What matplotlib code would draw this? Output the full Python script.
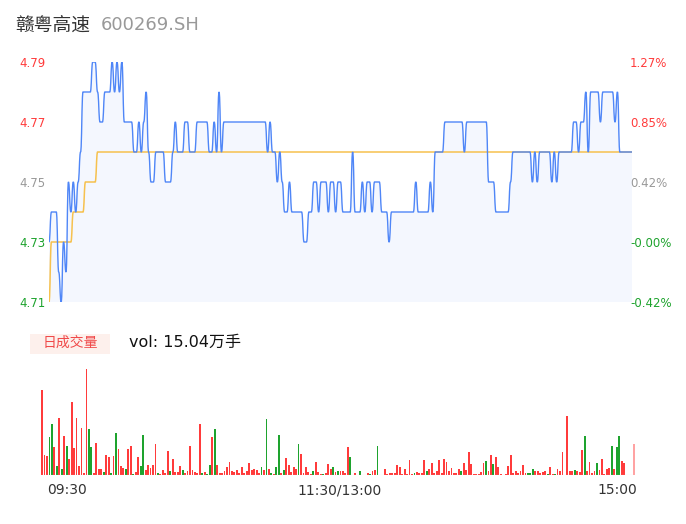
"""Intraday minute chart for 赣粤高速 (600269.SH): price, average price and volume."""

import numpy as np
import matplotlib
matplotlib.use('Agg')
import matplotlib.pyplot as plt
from matplotlib.patches import Rectangle, PathPatch
from matplotlib.path import Path

W, H = 686, 524

# Minute prices, stored as runs of (price level, number of minutes)
price_levels = [
    4.73, 4.74, 4.72, 4.71, 4.73, 4.72, 4.75, 4.74, 4.75, 4.74, 4.75, 4.76,
    4.78, 4.79, 4.78, 4.77, 4.78, 4.79, 4.78, 4.79, 4.78, 4.79,
    4.77, 4.76, 4.77, 4.76, 4.77, 4.78, 4.76,
    4.75, 4.76, 4.75, 4.76, 4.77, 4.76, 4.77, 4.76, 4.77, 4.76, 4.77, 4.76, 4.78, 4.76,
    4.77,
    4.76, 4.77, 4.76, 4.75, 4.76, 4.75, 4.74, 4.75, 4.74,
    4.73, 4.74, 4.75, 4.74, 4.75, 4.74, 4.75, 4.74, 4.75,
    4.74, 4.76, 4.74, 4.75, 4.74, 4.75, 4.74, 4.75, 4.74, 4.73,
    4.74, 4.75, 4.74, 4.75, 4.74,
    4.76, 4.77, 4.76, 4.77, 4.75, 4.74, 4.75,
    4.76, 4.75, 4.76, 4.75, 4.76, 4.75, 4.76, 4.75,
    4.76, 4.77, 4.76, 4.77, 4.78, 4.76, 4.78, 4.77, 4.78, 4.77, 4.78, 4.76,
]
price_runs = [
    1, 3, 1, 1, 1, 1, 1, 1, 1, 1, 1, 1,
    4, 2, 1, 2, 3, 1, 1, 1, 1, 1,
    4, 2, 1, 1, 1, 1, 1,
    2, 4, 3, 1, 1, 3, 2, 3, 5, 2, 1, 1, 1, 1,
    18,
    1, 1, 2, 1, 1, 1, 2, 1, 5,
    2, 2, 2, 1, 3, 1, 2, 1, 2,
    4, 1, 3, 1, 1, 2, 1, 3, 3, 1,
    10, 1, 5, 1, 1,
    4, 8, 1, 9, 3, 6, 1,
    8, 1, 1, 1, 5, 1, 1, 1,
    6, 2, 1, 2, 1, 1, 4, 1, 5, 1, 1, 6,
]

avg_levels = [4.71, 4.73, 4.74, 4.75, 4.76]
avg_runs = [1, 9, 5, 5, 221]

prev_close = 4.7302
left_ticks = [4.71, 4.73, 4.75, 4.77, 4.79]
left_labels = ['4.71', '4.73', '4.75', '4.77', '4.79']
right_labels = ['-0.42%', '-0.00%', '0.42%', '0.85%', '1.27%']

# Volume per minute (relative units) and direction: r = up, g = down, p = last
volumes = [
    85, 20, 19, 38, 51, 28, 9, 57, 6, 39,
    29, 16, 73, 27, 57, 9, 47, 2, 106, 46,
    28, 2, 32, 6, 6, 3, 20, 18, 2, 19,
    42, 26, 9, 7, 6, 26, 29, 1, 3, 18,
    9, 40, 5, 10, 7, 10, 31, 2, 1, 5,
    2, 24, 4, 16, 3, 3, 9, 5, 2, 4,
    29, 5, 3, 2, 51, 2, 3, 1, 10, 38,
    46, 10, 2, 2, 4, 8, 13, 4, 3, 5,
    2, 8, 2, 4, 12, 5, 6, 5, 2, 8,
    5, 56, 6, 2, 1, 8, 40, 2, 5, 17,
    10, 3, 8, 6, 31, 21, 2, 8, 3, 1,
    4, 13, 3, 1, 1, 2, 11, 6, 8, 3,
    4, 4, 4, 2, 28, 18, 0, 2, 0, 4,
    0, 0, 2, 1, 4, 5, 29, 0, 0, 6,
    1, 2, 2, 2, 10, 8, 1, 6, 1, 15,
    1, 2, 3, 2, 2, 15, 4, 6, 12, 2,
    4, 15, 2, 16, 13, 4, 7, 2, 2, 6,
    4, 12, 5, 23, 11, 1, 1, 1, 3, 12,
    14, 4, 20, 11, 18, 8, 1, 0, 1, 9,
    20, 2, 4, 2, 4, 10, 2, 2, 2, 6,
    4, 4, 2, 3, 4, 1, 8, 1, 1, 6,
    4, 23, 0, 59, 4, 4, 5, 4, 3, 25,
    39, 4, 13, 2, 4, 12, 5, 16, 1, 6,
    7, 29, 6, 28, 39, 14, 12, 0, 0, 0, 31,
]
directions = (
    "rrrggrgrgr" "grrrrrrrrg" "grrrrgrrgr" "grrrgrrgrr" "ggrrrrrgrr"
    "rrgrrrrgrr" "rrrrrgrggr" "grrrrrrrrr" "rrrrrrrrrg" "rgrgrggrgr"
    "rrrrgrrrrr" "grrrgrrrgr" "grrrrgrrrg" "rrrgrrgrrr" "rrrrrrrrrr"
    "rgrrrrgrrr" "rrrrrrrrrr" "grrrrrrrrr" "grrgrrrrrr" "rrrrrrrggg"
    "rrrrrgrrgr" "rrrrrrgrrr" "grrrrgrrrr" "rgrggrrrrrp"
)

time_labels = ['09:30', '11:30/13:00', '15:00']

RED = '#ff3b3b'
GREEN = '#1ea32e'
GRAY = '#999999'
BLUE = '#4f86f7'
GOLD = '#f6c14e'

price = np.repeat(price_levels, price_runs)
avg = np.repeat(avg_levels, avg_runs)
minutes = np.arange(len(price))


def smooth_path_verts(x, y):
    """Bezier segments with flat tangents at every data point (chart-style smoothing)."""
    verts = [(x[0], y[0])]
    codes = [Path.MOVETO]
    for i in range(1, len(x)):
        dx = (x[i] - x[i - 1]) * 0.5
        verts += [(x[i - 1] + dx, y[i - 1]), (x[i] - dx, y[i]), (x[i], y[i])]
        codes += [Path.CURVE4] * 3
    return verts, codes


plt.rcParams['font.family'] = ['DejaVu Sans', 'Noto Sans CJK SC']

fig = plt.figure(figsize=(W / 100, H / 100), dpi=100)

# --- price panel ---
ax = fig.add_axes([49 / W, 1 - 302 / H, (632 - 49) / W, 240 / H])
pv, pc = smooth_path_verts(minutes, price)
base = left_ticks[0]
fill_verts = pv + [(minutes[-1], base), (minutes[0], base), pv[0]]
fill_codes = pc + [Path.LINETO, Path.LINETO, Path.CLOSEPOLY]
ax.add_patch(PathPatch(Path(fill_verts, fill_codes), facecolor='#f4f7fe', lw=0))
av, ac = smooth_path_verts(minutes, avg)
ax.add_patch(PathPatch(Path(av, ac), facecolor='none', edgecolor=GOLD, lw=1.1))
ax.add_patch(PathPatch(Path(pv, pc), facecolor='none', edgecolor=BLUE, lw=1.0))
ax.set_xlim(0, len(price) - 1)
ax.set_ylim(left_ticks[0], left_ticks[-1])
ax.set_xticks([])
ax.set_yticks(left_ticks)
ax.set_yticklabels(left_labels)
ax.tick_params(axis='y', length=0, pad=2.2, labelsize=8.5)
for lab, val in zip(ax.get_yticklabels(), left_ticks):
    if val > prev_close + 0.005:
        lab.set_color(RED if val > 4.76 else GRAY)
    else:
        lab.set_color(GREEN)
for s in ax.spines.values():
    s.set_visible(False)

ax2 = ax.twinx()
ax2.set_ylim(left_ticks[0], left_ticks[-1])
ax2.set_yticks(left_ticks)
ax2.set_yticklabels(right_labels)
ax2.tick_params(axis='y', length=0, pad=-1.5, labelsize=8.5)
for lab, val in zip(ax2.get_yticklabels(), left_ticks):
    if val > prev_close + 0.005:
        lab.set_color(RED if val > 4.76 else GRAY)
    else:
        lab.set_color(GREEN)
for s in ax2.spines.values():
    s.set_visible(False)

# --- volume panel ---
vax = fig.add_axes([40.8 / W, 1 - 475 / H, (635.2 - 40.8) / W, 110 / H])
colors = {'r': RED, 'g': GREEN, 'p': '#ffa3a3'}
bar_colors = [colors[d] for d in directions]
vax.bar(np.arange(len(volumes)), volumes, width=0.75, color=bar_colors, lw=0)
vax.axhline(0, color='#f3d9d9', lw=0.8)
vax.set_xlim(-0.5, len(volumes) - 0.5)
vax.set_ylim(0, 110)
vax.axis('off')

# --- texts ---
fig.text(15 / W, 1 - 25 / H, '赣粤高速', fontsize=13.5, color='#333333',
         family=['Noto Sans CJK SC'], va='center', ha='left')
fig.text(101 / W, 1 - 25 / H, '600269.SH', fontsize=13, color=GRAY,
         va='center', ha='left')

fig.patches.append(Rectangle((30 / W, 1 - 354 / H), 80 / W, 20 / H,
                             transform=fig.transFigure, color='#fdf0ec', lw=0))
fig.text(70 / W, 1 - 343 / H, '日成交量', fontsize=10, color='#f04a4a',
         family=['Noto Sans CJK SC'], va='center', ha='center')
fig.text(129 / W, 1 - 342 / H, 'vol: 15.04万手', fontsize=11.5, color='#111111',
         va='center', ha='left')

for lab, xp in zip(time_labels, [67, 340, 617]):
    fig.text(xp / W, 1 - 490 / H, lab, fontsize=10, color='#333333',
             va='center', ha='center')

fig.savefig('out.png', dpi=100)
